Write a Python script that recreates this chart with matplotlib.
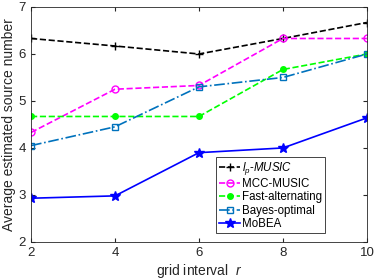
import numpy as np
import matplotlib
matplotlib.use('Agg')
import matplotlib.pyplot as plt

plt.rcParams['font.family'] = ['Liberation Sans', 'DejaVu Sans']
plt.rcParams['mathtext.fontset'] = 'custom'
plt.rcParams['mathtext.it'] = 'Liberation Sans:italic'
plt.rcParams['mathtext.rm'] = 'Liberation Sans'

r = [2, 4, 6, 8, 10]
lp_music = [6.33, 6.17, 6.0, 6.33, 6.67]
mcc_music = [4.33, 5.25, 5.33, 6.33, 6.33]
fast_alt = [4.67, 4.67, 4.67, 5.67, 6.0]
bayes_opt = [4.05, 4.45, 5.3, 5.5, 6.0]
mobea = [2.93, 2.98, 3.9, 4.0, 4.64]

fig = plt.figure(figsize=(3.74, 2.8), dpi=100)
ax = fig.add_axes([0.083, 0.136, 0.898, 0.839])

ax.plot(r, lp_music, color='k', linestyle='--', marker='+', markersize=6, linewidth=1.2,
        label=r'$l_p$-$\mathit{MUSIC}$')
ax.plot(r, mcc_music, color='#ff00ff', linestyle='--', marker='o', markersize=5,
        markerfacecolor='none', linewidth=1.2, label='MCC-MUSIC')
ax.plot(r, fast_alt, color='#00ff00', linestyle='--', marker='o', markersize=4,
        linewidth=1.2, label='Fast-alternating')
ax.plot(r, bayes_opt, color='#0072bd', linestyle='-.', marker='s', markersize=4,
        markerfacecolor='none', linewidth=1.2, label='Bayes-optimal')
ax.plot(r, mobea, color='#0000ff', linestyle='-', marker='*', markersize=7,
        linewidth=1.2, label='MoBEA')

ax.set_xlim(2, 10)
ax.set_ylim(2, 7)
ax.set_xticks([2, 4, 6, 8, 10])
ax.set_yticks([2, 3, 4, 5, 6, 7])
ax.tick_params(direction='in', top=True, right=True, labelsize=9.5, length=3,
               colors='#262626')
for s in ax.spines.values():
    s.set_color('#262626')
    s.set_linewidth(0.6)

ax.set_xlabel(r'grid interval  $r$', fontsize=10, labelpad=2, color='#262626')
ax.set_ylabel('Average estimated source number', fontsize=10, labelpad=2, color='#262626')

leg = ax.legend(loc='lower right', bbox_to_anchor=(0.893, 0.015), fontsize=8.3,
                fancybox=False, edgecolor='#262626', framealpha=1,
                handlelength=1.9, handletextpad=0.15, borderpad=0.25, labelspacing=0.1)
leg.get_frame().set_linewidth(0.6)

plt.savefig('out.png', dpi=100)
